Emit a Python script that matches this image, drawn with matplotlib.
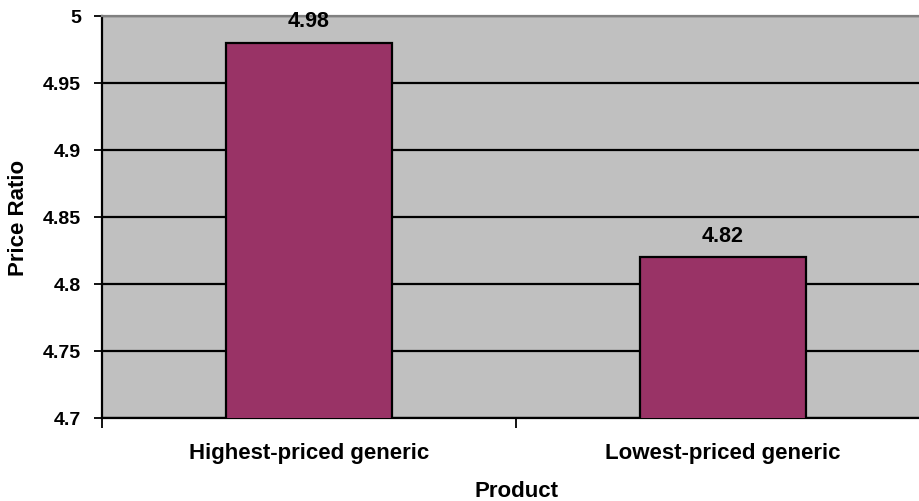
import matplotlib
matplotlib.use("Agg")
import matplotlib.pyplot as plt
import numpy as np

categories = ["Highest-priced generic", "Lowest-priced generic"]
values = [4.98, 4.82]
y_ticks = [4.7, 4.75, 4.8, 4.85, 4.9, 4.95, 5.0]
y_tick_labels = ["4.7", "4.75", "4.8", "4.85", "4.9", "4.95", "5"]

plt.rcParams["font.family"] = ["Liberation Sans", "DejaVu Sans"]
plt.rcParams["font.weight"] = "bold"

W, H = 919, 502
fig = plt.figure(figsize=(W / 100, H / 100), dpi=100)
left, right, top, bottom = 102, 930, 17, 419
ax = fig.add_axes([left / W, 1 - bottom / H, (right - left) / W, (bottom - top) / H])
ax.set_facecolor("#C0C0C0")

x = np.arange(len(categories))
ax.set_xlim(-0.5, len(categories) - 0.5)
ax.set_ylim(4.7, 5.0)

ax.set_yticks(y_ticks)
ax.set_yticklabels(y_tick_labels, fontsize=14, fontweight="bold")
ax.yaxis.grid(True, color="black", linewidth=1.6)
ax.set_axisbelow(True)

ax.bar(x, values, width=0.4, color="#993366", edgecolor="black", linewidth=1.6, zorder=3)
for xi, v in zip(x, values):
    ax.annotate(f"{v:.2f}", (xi, v), xytext=(0, 12), textcoords="offset points",
                ha="center", va="baseline", fontsize=15.5, fontweight="bold")

# category labels sit between ticks placed on category boundaries
ax.set_xticks(np.arange(-0.5, len(categories), 1.0))
ax.set_xticklabels([""] * (len(categories) + 1))
ax.set_xticks(x, minor=True)
ax.set_xticklabels(categories, minor=True, fontsize=16, fontweight="bold")
ax.tick_params(axis="x", which="minor", length=0, pad=17)
ax.tick_params(axis="x", which="major", length=7, width=1.3, direction="out")
ax.tick_params(axis="y", length=6, width=1.3, direction="out", pad=9)

for s in ["left", "bottom"]:
    ax.spines[s].set_color("black")
    ax.spines[s].set_linewidth(1.6)
ax.spines["top"].set_color("#808080")
ax.spines["top"].set_linewidth(1.6)
ax.spines["right"].set_visible(False)

fig.text(24 / W, 1 - 218 / H, "Price Ratio", rotation=90, rotation_mode="anchor",
         ha="center", va="baseline", fontsize=16, fontweight="bold")
fig.text(516 / W, 1 - 497 / H, "Product", ha="center", va="baseline", fontsize=16, fontweight="bold")

fig.savefig("out.png", dpi=100)
